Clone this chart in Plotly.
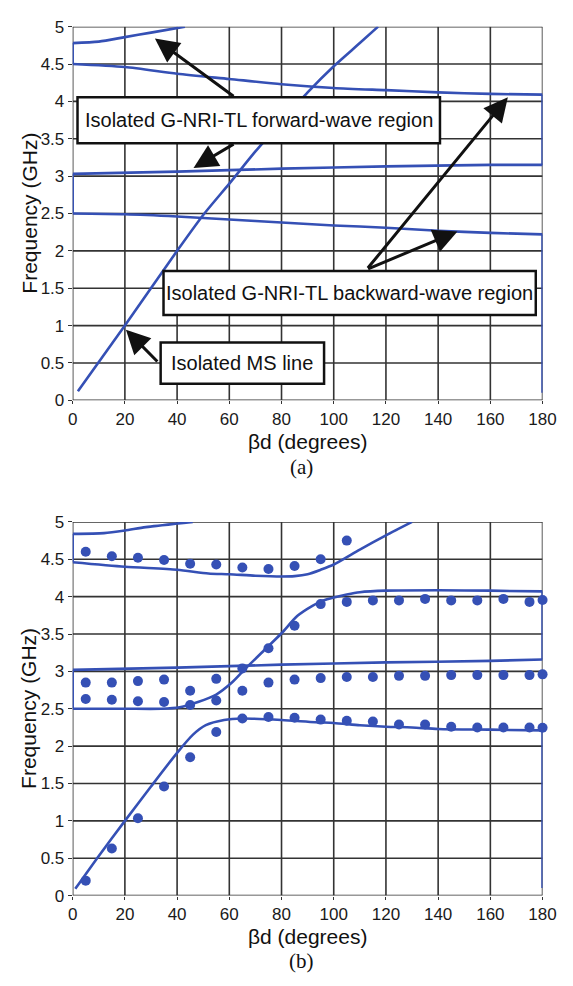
import plotly.graph_objects as go

W, H = 573, 986
BLUE = "#3550b5"

# ---------------- (a) isolated structures ----------------
a_top_x = [0, 10, 20, 30, 43]
a_top_y = [4.78, 4.80, 4.86, 4.92, 5.0]
a_fw_x = [0, 20, 40, 60, 80, 100, 120, 140, 160, 180]
a_fw_y = [4.5, 4.46, 4.37, 4.30, 4.23, 4.18, 4.15, 4.12, 4.10, 4.09]
a_mid_x = [0, 40, 80, 120, 160, 180]
a_mid_y = [3.03, 3.06, 3.10, 3.13, 3.15, 3.15]
a_bw_x = [0, 20, 40, 60, 80, 100, 120, 140, 160, 180]
a_bw_y = [2.5, 2.49, 2.46, 2.42, 2.38, 2.34, 2.31, 2.27, 2.24, 2.22]
a_ms_x = [2, 20, 40, 50, 60, 70, 80, 90, 100, 110, 117]
a_ms_y = [0.12, 1.0, 2.0, 2.48, 2.9, 3.33, 3.73, 4.12, 4.47, 4.78, 5.0]
a_floor = 0.1

# ---------------- (b) coupled structure ----------------
b_top_x = [0, 12, 20, 28, 46]
b_top_y = [4.84, 4.85, 4.885, 4.93, 5.0]
b_up_x = [0, 20, 40, 52, 60, 70, 80, 85, 90, 95, 100, 110, 120, 130]
b_up_y = [4.46, 4.40, 4.36, 4.31, 4.30, 4.28, 4.27, 4.275, 4.30, 4.36, 4.43, 4.63, 4.82, 5.0]
b_mid_x = [0, 40, 80, 120, 160, 180]
b_mid_y = [3.02, 3.05, 3.09, 3.12, 3.14, 3.16]
b_s_x = [0, 20, 34, 41, 48, 55, 61, 66, 73, 80, 86, 92, 96, 100, 105, 110, 120, 140, 160, 180]
b_s_y = [2.5, 2.5, 2.5, 2.52, 2.59, 2.69, 2.85, 3.03, 3.27, 3.51, 3.74, 3.88, 3.95, 3.99,
         4.03, 4.06, 4.08, 4.085, 4.08, 4.07]
b_low_x = [1, 10, 20, 30, 40, 46, 51, 58, 65, 80, 93, 100, 110, 120, 130, 140, 160, 180]
b_low_y = [0.09, 0.53, 1.0, 1.46, 1.91, 2.15, 2.28, 2.35, 2.37, 2.35, 2.32, 2.31, 2.28,
           2.26, 2.25, 2.23, 2.22, 2.21]
b_floor = 0.1

# measured points
m1_x = [5, 15, 25, 35, 45, 55, 65, 75, 85, 95, 105]
m1_y = [4.60, 4.54, 4.52, 4.49, 4.44, 4.43, 4.39, 4.37, 4.41, 4.50, 4.75]
m_x = [5, 15, 25, 35, 45, 55, 65, 75, 85, 95, 105, 115, 125, 135, 145, 155, 165, 175, 180]
m2_y = [2.85, 2.85, 2.87, 2.89, 2.74, 2.90, 3.04, 3.31, 3.61, 3.90, 3.93, 3.95, 3.95, 3.97,
        3.95, 3.95, 3.97, 3.93, 3.955]
m3_y = [2.63, 2.62, 2.60, 2.59, 2.55, 2.61, 2.74, 2.85, 2.89, 2.91, 2.925, 2.925, 2.94, 2.94,
        2.95, 2.95, 2.95, 2.95, 2.96]
m4_y = [0.20, 0.63, 1.035, 1.46, 1.85, 2.19, 2.37, 2.39, 2.38, 2.355, 2.34, 2.33, 2.29, 2.29,
        2.26, 2.25, 2.25, 2.25, 2.245]

x_ticks = [0, 20, 40, 60, 80, 100, 120, 140, 160, 180]
y_ticks = [0, 0.5, 1, 1.5, 2, 2.5, 3, 3.5, 4, 4.5, 5]

fig = go.Figure()


def curve(x, y, xa, ya, shape="spline"):
    fig.add_trace(go.Scatter(x=x, y=y, mode="lines", xaxis=xa, yaxis=ya,
                             line=dict(color=BLUE, width=2.6, shape=shape, smoothing=0.7),
                             showlegend=False, hoverinfo="skip"))


# (a)
curve(a_top_x, a_top_y, "x", "y")
curve(a_fw_x, a_fw_y, "x", "y")
curve(a_mid_x, a_mid_y, "x", "y")
curve(a_bw_x, a_bw_y, "x", "y")
curve(a_ms_x, a_ms_y, "x", "y")
curve([a_fw_x[0], a_top_x[0]], [a_fw_y[0], a_top_y[0]], "x", "y", "linear")
curve([a_bw_x[0], a_mid_x[0]], [a_bw_y[0], a_mid_y[0]], "x", "y", "linear")
curve([a_fw_x[-1], a_mid_x[-1]], [a_fw_y[-1], a_mid_y[-1]], "x", "y", "linear")
curve([a_bw_x[-1], a_bw_x[-1]], [a_bw_y[-1], a_floor], "x", "y", "linear")

# (b)
curve(b_top_x, b_top_y, "x2", "y2")
curve(b_up_x, b_up_y, "x2", "y2")
curve(b_mid_x, b_mid_y, "x2", "y2")
curve(b_s_x, b_s_y, "x2", "y2")
curve(b_low_x, b_low_y, "x2", "y2")
curve([b_up_x[0], b_top_x[0]], [b_up_y[0], b_top_y[0]], "x2", "y2", "linear")
curve([b_s_x[0], b_mid_x[0]], [b_s_y[0], b_mid_y[0]], "x2", "y2", "linear")
curve([b_s_x[-1], b_mid_x[-1]], [b_s_y[-1], b_mid_y[-1]], "x2", "y2", "linear")
curve([b_low_x[-1], b_low_x[-1]], [b_low_y[-1], b_floor], "x2", "y2", "linear")

for xs, ys in [(m1_x, m1_y), (m_x, m2_y), (m_x, m3_y), (m_x, m4_y)]:
    fig.add_trace(go.Scatter(x=xs, y=ys, mode="markers", xaxis="x2", yaxis="y2",
                             marker=dict(color=BLUE, size=10), cliponaxis=False,
                             showlegend=False, hoverinfo="skip"))

GRID = "#333333"
TICKFONT = dict(family="Liberation Sans, Arial", size=17, color="#1a1a1a")
xdom = [70 / W, 556 / W]
ax_common = dict(range=[0, 180], tickvals=x_ticks, showgrid=False,
                 showline=False, zeroline=False,
                 ticks="outside", ticklen=3, tickcolor=GRID, tickwidth=1.4,
                 tickfont=TICKFONT, domain=xdom)
ay_common = dict(range=[0, 5], tickvals=y_ticks, showgrid=False,
                 showline=False, zeroline=False,
                 ticks="outside", ticklen=4, tickcolor=GRID, tickwidth=1.4, tickfont=TICKFONT)

fig.update_layout(
    width=W, height=H, margin=dict(l=0, r=0, t=0, b=0),
    paper_bgcolor="white", plot_bgcolor="white",
    xaxis=dict(**ax_common, anchor="y"),
    yaxis=dict(**ay_common, domain=[1 - 399 / H, 1 - 18 / H], anchor="x"),
    xaxis2=dict(**ax_common, anchor="y2"),
    yaxis2=dict(**ay_common, domain=[1 - 904 / H, 1 - 523 / H], anchor="x2"),
)

shapes = []
annotations = []

# grid lines and frame, placed from the tick arrays
for xr, yr in [("x", "y"), ("x2", "y2")]:
    for t in x_ticks:
        shapes.append(dict(type="line", xref=xr, yref=yr, x0=t, x1=t, y0=y_ticks[0], y1=y_ticks[-1],
                           line=dict(color=GRID, width=1.6), layer="below"))
    for t in y_ticks:
        shapes.append(dict(type="line", xref=xr, yref=yr, x0=x_ticks[0], x1=x_ticks[-1], y0=t, y1=t,
                           line=dict(color=GRID, width=1.6), layer="below"))

LABEL_FONT = dict(family="Liberation Sans, Arial", size=20, color="#111")
boxes = [
    (1.85, 140.7, 3.44, 4.055, "Isolated G-NRI-TL forward-wave region"),
    (34.8, 177.4, 1.14, 1.73, "Isolated G-NRI-TL backward-wave region"),
    (33.7, 96.3, 0.223, 0.774, "Isolated MS line"),
]
for x0, x1, y0, y1, txt in boxes:
    shapes.append(dict(type="rect", xref="x", yref="y", x0=x0, x1=x1, y0=y0, y1=y1,
                       fillcolor="white", line=dict(color="#111", width=2.5), layer="above"))
    annotations.append(dict(x=(x0 + x1) / 2, y=(y0 + y1) / 2, xref="x", yref="y", text=txt,
                            showarrow=False, font=LABEL_FONT))

arrows = [
    ((62.2, 4.055), (31.5, 4.84)),
    ((62.2, 3.44), (46.3, 3.11)),
    ((112.6, 1.75), (166.7, 4.055)),
    ((112.6, 1.75), (147.4, 2.26)),
    ((33.0, 0.5), (20.4, 0.945)),
]
for (tx, ty), (hx, hy) in arrows:
    annotations.append(dict(x=hx, y=hy, ax=tx, ay=ty, xref="x", yref="y", axref="x", ayref="y",
                            text="", showarrow=True, arrowhead=2, arrowsize=1.6, arrowwidth=3,
                            arrowcolor="#111", standoff=0, startstandoff=0))

TITLE_FONT = dict(family="Liberation Sans, Arial", size=21, color="#111")
for yc_title, yc_plot, lab, ylab in [(441, 208.5, "(a)", 467), (946, 713.5, "(b)", 971)]:
    annotations.append(dict(x=313 / W, y=1 - yc_title / H, xref="paper", yref="paper",
                            text="βd (degrees)", showarrow=False, font=TITLE_FONT,
                            xanchor="center", yanchor="middle"))
    annotations.append(dict(x=25 / W, y=1 - yc_plot / H, xref="paper", yref="paper",
                            text="Frequency (GHz)", showarrow=False, font=TITLE_FONT,
                            textangle=-90, xanchor="center", yanchor="middle"))
    annotations.append(dict(x=307 / W, y=1 - ylab / H, xref="paper", yref="paper",
                            text=lab, showarrow=False,
                            font=dict(family="Liberation Serif, Times New Roman", size=21, color="#111"),
                            xanchor="center", yanchor="middle"))

fig.update_layout(shapes=shapes, annotations=annotations)
fig.write_html("out.html")
